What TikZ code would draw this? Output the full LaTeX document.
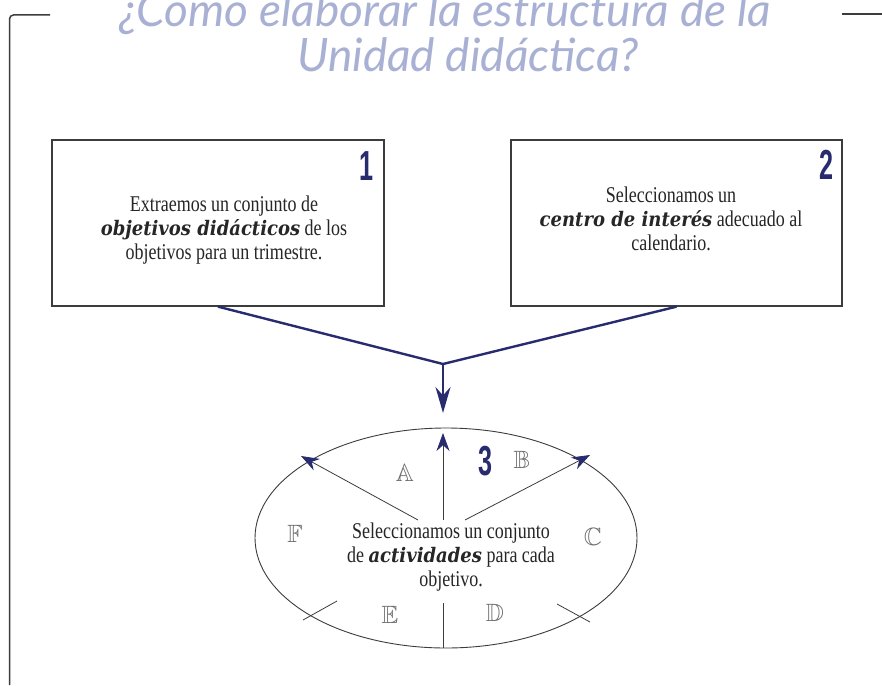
\documentclass[tikz,border=0pt]{standalone}
\usepackage{amssymb}
\usepackage{fontspec}
\setmainfont{Liberation Serif}
\newfontfamily\bodyf[FakeStretch=0.8]{Liberation Serif}
\newfontfamily\bif[FakeStretch=0.9]{DejaVu Serif}
\newfontfamily\numf[FakeStretch=0.6]{Liberation Sans}
\newfontfamily\titlef{Lato}
\usetikzlibrary{arrows.meta,shapes.geometric}
\definecolor{navy}{RGB}{40,44,110}
\definecolor{titleblue}{RGB}{168,176,212}
\definecolor{framegray}{RGB}{60,60,60}
\definecolor{lettergray}{RGB}{110,110,110}
\newcommand{\kw}[1]{{\bif\fontsize{20}{24}\selectfont\bfseries\itshape #1}}
\begin{document}
\begin{tikzpicture}[x=1pt,y=-1pt,
  titlestyle/.style={text=titleblue, font=\titlef\itshape\fontsize{46}{47}\selectfont, inner sep=0pt, anchor=base},
  boxstyle/.style={draw=framegray, line width=1.3pt, inner sep=0pt},
  bodytext/.style={align=center, inner sep=0pt, text=black!85, font=\bodyf\fontsize{22.5}{24}\selectfont},
  numstyle/.style={text=navy, font=\numf\bfseries\fontsize{42}{42}\selectfont, inner sep=0pt},
  letterstyle/.style={text=lettergray, font=\fontsize{25}{25}\selectfont, inner sep=0pt},
  conn/.style={draw=navy, line width=2.4pt},
  innerarrow/.style={draw=framegray, line width=0.8pt, -{Stealth[length=18pt,width=13pt,color=navy]}},
  tick/.style={draw=framegray, line width=0.8pt},
  framestyle/.style={draw=framegray, line width=1.5pt}
]
\useasboundingbox (0,0) rectangle (882,685);
\fill[white] (0,0) rectangle (882,685);
% frame
\coordinate (fa) at (50,15);
\coordinate (fb) at (9.5,15);
\coordinate (fc) at (9.5,685);
\coordinate (fd) at (842,14);
\coordinate (fe) at (882,14);
\draw[framestyle, rounded corners=4pt] (fa) -- (fb) -- (fc);
\draw[framestyle] (fd) -- (fe);
% title
\node[titlestyle] (t1) at (445,27) {¿Como elaborar la estructura de la};
\node[titlestyle] (t2) at (468,71) {Unidad didáctica?};
% boxes
\node[boxstyle, minimum width=332pt, minimum height=166pt] (b1) at (218,223) {};
\node[boxstyle, minimum width=331pt, minimum height=166pt] (b2) at (676.5,223) {};
\node[numstyle] (n1) at (367,166) {1};
\node[numstyle] (n2) at (826.5,165) {2};
\node[bodytext] (tx1) at (224,230) {Extraemos un conjunto de\\ \kw{objetivos didácticos} de los\\ objetivos para un trimestre.};
\node[bodytext] (tx2) at (671,219) {Seleccionamos un\\ \kw{centro de interés} adecuado al\\ calendario.};
% connectors
\coordinate (j) at (443,364);
\coordinate (tipdown) at (443,413);
\draw[conn] (b1.south) -- (j);
\draw[conn] (b2.south) -- (j);
\draw[draw=navy, line width=2pt, -{Stealth[length=26pt,width=15pt,color=navy]}] (j) -- (tipdown);
% ellipse
\node[ellipse, draw=framegray, line width=0.9pt, minimum width=382pt, minimum height=220pt, inner sep=0pt] (el) at (446,538) {};
\node[bodytext] (tx3) at (451,557) {Seleccionamos un conjunto\\de \kw{actividades} para cada\\objetivo.};
\node[numstyle] (n3) at (485,461) {3};
% inner arrows
\coordinate (su) at (443,520);
\coordinate (tu) at (443,433);
\coordinate (sl) at (418,520);
\coordinate (tl) at (301,456);
\coordinate (sr) at (465,520);
\coordinate (tr) at (590,455);
\draw[innerarrow] (su) -- (tu);
\draw[innerarrow] (sl) -- (tl);
\draw[innerarrow] (sr) -- (tr);
% ticks
\coordinate (k1a) at (303,620);
\coordinate (k1b) at (337,601);
\coordinate (k2a) at (557,604);
\coordinate (k2b) at (590,622);
\coordinate (k3a) at (443,603);
\coordinate (k3b) at (443,648);
\draw[tick] (k1a) -- (k1b);
\draw[tick] (k2a) -- (k2b);
\draw[tick] (k3a) -- (k3b);
% letters
\node[letterstyle] (la) at (405,473) {$\mathbb{A}$};
\node[letterstyle] (lb) at (522,460) {$\mathbb{B}$};
\node[letterstyle] (lc) at (593,537) {$\mathbb{C}$};
\node[letterstyle] (ld) at (495,613) {$\mathbb{D}$};
\node[letterstyle] (le) at (390,615) {$\mathbb{E}$};
\node[letterstyle] (lf) at (295,534) {$\mathbb{F}$};
\end{tikzpicture}
\end{document}
